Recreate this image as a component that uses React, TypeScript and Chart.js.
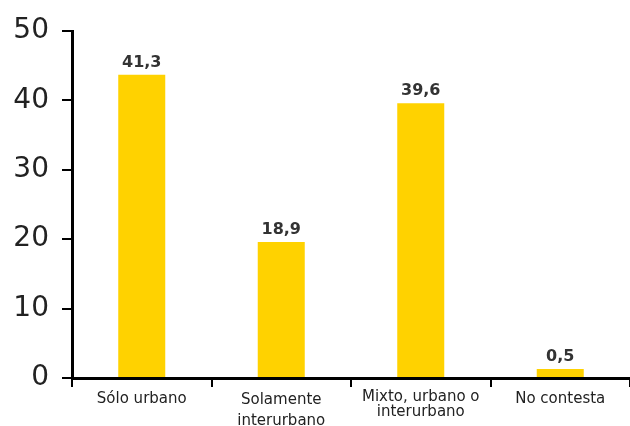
import React, { useEffect, useRef } from "react";
import { Chart, registerables } from "chart.js";

Chart.register(...registerables);

const categories: (string | string[])[] = [
  "Sólo urbano",
  ["Solamente", "interurbano"],
  ["Mixto, urbano o", "interurbano"],
  "No contesta",
];
// bar heights as drawn in the picture
const barValues = [43.7, 19.6, 39.6, 1.3];
// value labels printed above the bars
const valueLabels = ["41,3", "18,9", "39,6", "0,5"];
const yTicks = [0, 10, 20, 30, 40, 50];

const FONT = "'DejaVu Sans', Verdana, sans-serif";

const valueLabelPlugin = {
  id: "valueLabels",
  afterDatasetsDraw(chart: any) {
    const ctx = chart.ctx;
    const meta = chart.getDatasetMeta(0);
    ctx.save();
    ctx.font = `bold 16px ${FONT}`;
    ctx.fillStyle = "#333";
    ctx.textAlign = "center";
    ctx.textBaseline = "alphabetic";
    meta.data.forEach((bar: any, i: number) => {
      ctx.fillText(valueLabels[i], bar.x, bar.y - 8);
    });
    ctx.restore();
  },
};

export default function App() {
  const ref = useRef<HTMLCanvasElement>(null);
  useEffect(() => {
    if (!ref.current) return;
    const chart = new Chart(ref.current, {
      type: "bar",
      data: {
        labels: categories,
        datasets: [
          {
            data: barValues,
            backgroundColor: "#FFD200",
            borderWidth: 0,
            barPercentage: 0.337,
            categoryPercentage: 1,
          },
        ],
      },
      options: {
        responsive: false,
        animation: false,
        devicePixelRatio: 1,
        layout: { padding: { top: 31, right: 0, left: 0, bottom: 0 } },
        plugins: {
          legend: { display: false },
          tooltip: { enabled: false },
        },
        scales: {
          x: {
            type: "category",
            offset: true,
            grid: {
              display: true,
              drawOnChartArea: false,
              drawTicks: true,
              tickLength: 9,
              color: "#000",
              lineWidth: 2,
              offset: true,
            },
            border: { display: true, color: "#000", width: 3 },
            ticks: {
              color: "#222",
              autoSkip: false,
              maxRotation: 0,
              padding: 3,
              font: (c: any) => ({
                family: FONT,
                size: 15,
                lineHeight: c.index === 1 ? 1.4 : c.index === 2 ? 1.0 : 1.2,
              }),
            },
            afterFit: (s: any) => {
              s.height = 48;
            },
          },
          y: {
            min: 0,
            max: 50,
            afterBuildTicks: (s: any) => {
              s.ticks = yTicks.map((v) => ({ value: v }));
            },
            ticks: {
              color: "#222",
              padding: 13,
              font: { family: FONT, size: 28 },
            },
            grid: {
              display: true,
              drawOnChartArea: false,
              drawTicks: true,
              tickLength: 10,
              color: "#000",
              lineWidth: 2,
            },
            border: { display: true, color: "#000", width: 3 },
            afterFit: (s: any) => {
              s.width = 72;
            },
          },
        },
      },
      plugins: [valueLabelPlugin],
    });
    return () => chart.destroy();
  }, []);
  return (
    <div style={{ position: "absolute", left: 0, top: 0, width: 630, height: 426, background: "#fff" }}>
      <canvas ref={ref} width={630} height={426} />
    </div>
  );
}
